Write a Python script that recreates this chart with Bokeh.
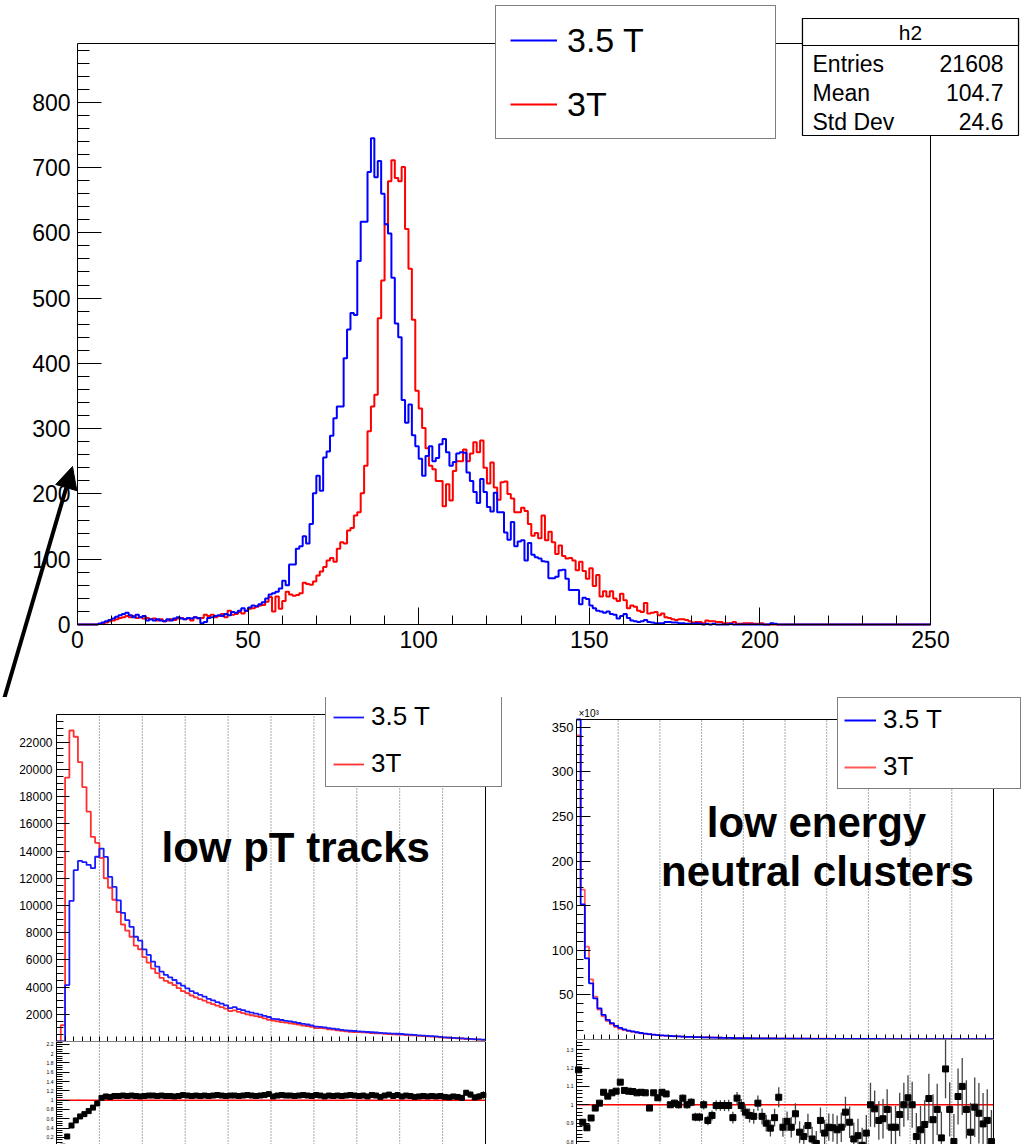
import numpy as np
from bokeh.plotting import figure
from bokeh.models import (Range1d, SingleIntervalTicker, FixedTicker, Legend, LegendItem, LinearAxis,
                          Label, BoxAnnotation, Arrow, NormalHead, PrintfTickFormatter)
from bokeh.layouts import column, row
from bokeh.embed import file_html
from bokeh.resources import INLINE

FONT = "Liberation Sans"

# ---------------- main histogram (h2), 250 bins of width 1 on [0, 250]
main_label_blue = "3.5 T"
main_label_red = "3T"
main_blue = [
    0, 0, 0, 0, 0, 0, 1, 3, 5, 7,
    9, 12, 14, 16, 18, 14, 11, 15, 11, 13,
    6, 8, 6, 8, 6, 5, 8, 6, 9, 11,
    9, 8, 10, 9, 11, 10, 2, 4, 10, 11,
    13, 14, 13, 16, 14, 19, 18, 21, 25, 21,
    26, 29, 28, 31, 34, 40, 46, 48, 50, 55,
    67, 60, 92, 92, 116, 120, 135, 124, 154, 201,
    228, 205, 256, 265, 289, 316, 334, 334, 408, 452,
    477, 474, 557, 617, 617, 693, 745, 685, 710, 660,
    613, 599, 531, 461, 440, 344, 309, 337, 290, 273,
    254, 228, 258, 273, 250, 255, 276, 284, 264, 243,
    249, 262, 264, 263, 233, 220, 203, 186, 223, 203,
    180, 173, 202, 172, 172, 141, 130, 157, 120, 127,
    129, 98, 125, 107, 103, 101, 97, 96, 71, 71,
    73, 83, 84, 70, 53, 53, 53, 31, 41, 39,
    29, 25, 21, 20, 18, 20, 16, 15, 9, 13,
    16, 10, 6, 5, 4, 5, 7, 4, 3, 2,
    2, 2, 4, 4, 3, 3, 2, 2, 1, 1,
    1, 2, 1, 0, 1, 0, 1, 0, 0, 0,
    0, 1, 0, 0, 0, 0, 0, 0, 0, 0,
    0, 0, 0, 2, 1, 0, 0, 0, 0, 0,
] + [0] * 40
main_red = [
    0, 0, 0, 0, 0, 0, 1, 2, 3, 5,
    6, 8, 10, 11, 13, 11, 13, 10, 11, 9,
    10, 8, 9, 6, 8, 5, 6, 8, 7, 9,
    10, 8, 9, 6, 11, 9, 10, 15, 13, 15,
    11, 13, 16, 11, 21, 15, 16, 19, 17, 21,
    24, 25, 27, 29, 30, 35, 42, 20, 43, 24,
    36, 50, 46, 44, 45, 48, 64, 62, 61, 66,
    75, 81, 88, 98, 102, 96, 116, 126, 124, 144,
    148, 167, 172, 201, 243, 296, 334, 352, 469, 527,
    613, 679, 711, 684, 679, 701, 606, 545, 467, 358,
    331, 301, 270, 243, 238, 220, 220, 181, 215, 190,
    235, 250, 250, 268, 250, 262, 279, 264, 282, 240,
    216, 248, 210, 191, 218, 219, 200, 193, 172, 172,
    179, 174, 154, 136, 140, 132, 167, 129, 142, 126,
    108, 121, 105, 101, 102, 98, 83, 96, 82, 70,
    86, 59, 76, 43, 51, 43, 51, 40, 36, 47,
    37, 25, 29, 27, 21, 19, 33, 17, 18, 19,
    14, 17, 11, 10, 8, 7, 8, 8, 7, 5,
    3, 4, 4, 2, 6, 5, 5, 4, 4, 2,
    2, 2, 4, 1, 1, 2, 2, 2, 1, 1,
    2, 0, 0, 0, 0, 0, 0, 0, 0, 0,
] + [0] * 40
stats_title = "h2"
stats_names = ["Entries", "Mean", "Std Dev"]
stats_values = ["21608", "104.7", "24.6"]

# ---------------- low pT tracks (100 bins)
trk_blue = [
    0, 0, 4150, 10340, 12590, 13270, 13180, 12980, 12740, 13580,
    14180, 13570, 12100, 11360, 10380, 9460, 8920, 8430, 7700, 7410,
    6770, 6360, 5870, 5500, 5130, 4890, 4720, 4520, 4280, 4100,
    3910, 3700, 3560, 3420, 3300, 3140, 3020, 2900, 2780, 2660,
    2450, 2520, 2380, 2300, 2200, 2120, 2050, 1980, 1880, 1800,
    1660, 1640, 1580, 1520, 1480, 1420, 1360, 1300, 1250, 1180,
    1100, 1080, 1040, 990, 950, 900, 860, 820, 790, 770,
    750, 730, 700, 680, 660, 640, 620, 600, 580, 570,
    550, 520, 500, 480, 450, 430, 410, 390, 370, 340,
    300, 290, 270, 250, 230, 210, 190, 170, 150, 135,
]
trk_red = [
    0, 1200, 19400, 22860, 22400, 20540, 18700, 16900, 15040, 14600,
    13500, 12000, 11300, 10420, 9520, 8600, 8150, 7700, 7050, 6780,
    6200, 5800, 5360, 5020, 4680, 4460, 4320, 4150, 3920, 3700,
    3560, 3380, 3240, 3120, 3000, 2860, 2740, 2630, 2520, 2420,
    2230, 2290, 2180, 2090, 2000, 1930, 1870, 1800, 1700, 1600,
    1530, 1490, 1420, 1380, 1340, 1290, 1240, 1170, 1140, 1080,
    990, 980, 960, 900, 870, 820, 790, 745, 710, 700,
    690, 665, 645, 615, 600, 590, 565, 545, 530, 515,
    510, 475, 455, 445, 415, 395, 380, 355, 340, 310,
    280, 275, 250, 235, 220, 180, 170, 160, 140, 120,
]
trk_ratio = [
    None, 0.0, 0.22, 0.455, 0.565, 0.65, 0.70, 0.765, 0.84, 0.93,
    1.05, 1.08, 1.07, 1.09, 1.09, 1.10, 1.09, 1.10, 1.09, 1.08,
    1.09, 1.10, 1.10, 1.09, 1.10, 1.09, 1.09, 1.08, 1.09, 1.11,
    1.10, 1.09, 1.10, 1.09, 1.10, 1.09, 1.10, 1.11, 1.10, 1.09,
    1.10, 1.10, 1.09, 1.10, 1.11, 1.10, 1.09, 1.10, 1.11, 1.13,
    1.08, 1.10, 1.11, 1.10, 1.10, 1.09, 1.10, 1.11, 1.10, 1.09,
    1.11, 1.10, 1.08, 1.10, 1.09, 1.10, 1.09, 1.10, 1.11, 1.10,
    1.09, 1.10, 1.08, 1.11, 1.10, 1.07, 1.10, 1.12, 1.09, 1.11,
    1.08, 1.10, 1.09, 1.07, 1.08, 1.09, 1.08, 1.09, 1.08, 1.09,
    1.07, 1.06, 1.08, 1.07, 1.05, 1.16, 1.12, 1.06, 1.08, 1.11,
]
trk_ratio_err = [
    0, 0.0, 0.005, 0.004, 0.004, 0.004, 0.004, 0.004, 0.004, 0.004,
    0.004, 0.004, 0.004, 0.005, 0.005, 0.005, 0.005, 0.005, 0.006, 0.006,
    0.006, 0.006, 0.007, 0.007, 0.007, 0.007, 0.008, 0.008, 0.008, 0.008,
    0.009, 0.009, 0.009, 0.01, 0.01, 0.01, 0.01, 0.011, 0.011, 0.011,
    0.012, 0.012, 0.012, 0.013, 0.013, 0.013, 0.014, 0.014, 0.014, 0.015,
    0.015, 0.016, 0.016, 0.016, 0.017, 0.017, 0.018, 0.018, 0.019, 0.019,
    0.02, 0.02, 0.021, 0.021, 0.022, 0.022, 0.023, 0.024, 0.024, 0.025,
    0.025, 0.026, 0.027, 0.027, 0.028, 0.029, 0.03, 0.03, 0.031, 0.032,
    0.033, 0.034, 0.035, 0.036, 0.037, 0.038, 0.04, 0.041, 0.043, 0.045,
    0.047, 0.049, 0.051, 0.054, 0.057, 0.06, 0.065, 0.07, 0.075, 0.08,
]

# ---------------- low energy neutral clusters (100 bins, x10^3)
clu_blue = [
    406, 151.4, 91, 63, 46, 35, 27.6, 22, 18.3, 15.3,
    13, 11.3, 10, 9, 8.1, 7.3, 6.6, 6.0, 5.5, 5.0,
    4.6, 4.25, 3.95, 3.7, 3.45, 3.25, 3.05, 2.88, 2.72, 2.57,
    2.43, 2.3, 2.18, 2.07, 1.97, 1.87, 1.78, 1.7, 1.62, 1.55,
    1.48, 1.42, 1.36, 1.3, 1.25, 1.2, 1.15, 1.1, 1.06, 1.02,
    0.98, 0.95, 0.92, 0.89, 0.86, 0.83, 0.8, 0.78, 0.76, 0.74,
    0.72, 0.7, 0.68, 0.66, 0.64, 0.62, 0.6, 0.59, 0.58, 0.57,
    0.56, 0.55, 0.54, 0.53, 0.52, 0.51, 0.5, 0.49, 0.48, 0.47,
    0.46, 0.45, 0.44, 0.43, 0.42, 0.41, 0.4, 0.39, 0.38, 0.37,
    0.36, 0.35, 0.34, 0.33, 0.32, 0.31, 0.3, 0.29, 0.28, 0.27,
]
clu_red = [
    341, 168, 104, 67.5, 48, 33.5, 26, 20.6, 16.9, 14,
    11.9, 10.6, 9.4, 8.5, 7.7, 6.9, 6.3, 5.9, 5.2, 4.8,
    4.35, 4.05, 3.95, 3.65, 3.45, 3.15, 3.05, 2.85, 2.9, 2.75,
    2.43, 2.5, 2.3, 2.08, 1.98, 1.88, 1.79, 1.82, 1.57, 1.56,
    1.54, 1.5, 1.45, 1.29, 1.33, 1.33, 1.32, 1.18, 1.02, 1.16,
    1.08, 1.08, 0.97, 1.04, 1.04, 0.94, 0.98, 0.99, 0.83, 0.87,
    0.82, 0.8, 0.79, 0.75, 0.67, 0.69, 0.74, 0.71, 0.74, 0.67,
    0.56, 0.56, 0.59, 0.57, 0.53, 0.58, 0.57, 0.52, 0.48, 0.45,
    0.46, 0.54, 0.51, 0.48, 0.41, 0.45, 0.41, 0.48, 0.32, 0.38,
    0.45, 0.34, 0.31, 0.34, 0.38, 0.31, 0.31, 0.31, 0.31, 0.34,
]
clu_ratio = [
    1.19, 0.905, 0.875, 0.928, 0.982, 1.009, 1.068, 1.047, 1.065, 1.074,
    1.123, 1.078, 1.074, 1.072, 1.065, 1.068, 1.065, 0.982, 1.065, 1.038,
    1.068, 1.059, 1.0, 1.009, 1.0, 1.036, 1.0, 1.014, 0.933, 0.933,
    1.0, 0.915, 0.942, 0.996, 0.996, 0.996, 0.996, 0.93, 1.036, 0.996,
    0.96, 0.942, 0.937, 1.009, 0.937, 0.9, 0.873, 0.93, 1.041, 0.878,
    0.91, 0.878, 0.951, 0.851, 0.827, 0.887, 0.814, 0.79, 0.915, 0.846,
    0.878, 0.875, 0.864, 0.878, 0.96, 0.905, 0.814, 0.832, 0.78, 0.846,
    1.0, 0.978, 0.915, 0.924, 0.975, 0.878, 0.878, 0.947, 1.0, 1.038,
    1.0, 0.827, 0.864, 0.893, 1.034, 0.919, 0.975, 0.82, 1.195, 0.975,
    0.8, 1.045, 1.1, 0.975, 0.851, 0.987, 0.954, 0.896, 0.915, 0.8,
]
clu_ratio_err = [
    0.004, 0.005, 0.005, 0.006, 0.006, 0.007, 0.007, 0.008, 0.008, 0.009,
    0.009, 0.01, 0.01, 0.011, 0.012, 0.012, 0.013, 0.014, 0.015, 0.016,
    0.016, 0.017, 0.018, 0.019, 0.02, 0.02, 0.021, 0.022, 0.023, 0.024,
    0.025, 0.026, 0.027, 0.028, 0.029, 0.03, 0.031, 0.032, 0.034, 0.035,
    0.036, 0.038, 0.04, 0.041, 0.043, 0.045, 0.046, 0.048, 0.055, 0.052,
    0.054, 0.056, 0.058, 0.06, 0.062, 0.064, 0.066, 0.068, 0.07, 0.072,
    0.074, 0.076, 0.078, 0.08, 0.083, 0.086, 0.089, 0.092, 0.095, 0.098,
    0.12, 0.1, 0.105, 0.108, 0.11, 0.112, 0.115, 0.118, 0.12, 0.122,
    0.125, 0.128, 0.13, 0.132, 0.135, 0.138, 0.14, 0.142, 0.16, 0.148,
    0.15, 0.152, 0.155, 0.158, 0.16, 0.162, 0.165, 0.168, 0.17, 0.172,
]
label_trk = "low pT tracks"
label_clu = ["low energy", "neutral clusters"]


def step_xy(edges, vals):
    return list(edges), list(vals) + [vals[-1]]


def style_axis(ax, size, maj_in, min_in, standoff):
    ax.major_tick_in = maj_in
    ax.major_tick_out = 0
    ax.minor_tick_in = min_in
    ax.minor_tick_out = 0
    ax.axis_line_color = None
    ax.major_tick_line_color = "black"
    ax.minor_tick_line_color = "black"
    ax.major_label_text_font = FONT
    ax.major_label_text_font_size = size
    ax.major_label_text_color = "black"
    ax.major_label_standoff = standoff


def canvas_fig(W, H, fx0, fx1, fy0, fy1, xr, yr, frame_sides=("below", "above", "left", "right")):
    """Figure whose Bokeh frame is the whole canvas; the ROOT pad frame spans
    canvas pixels fx0..fx1 (x) and fy0 (top)..fy1 (bottom) for data ranges xr, yr."""
    sx = (fx1 - fx0) / (xr[1] - xr[0])
    sy = (fy1 - fy0) / (yr[1] - yr[0])
    x_lo = xr[0] - fx0 / sx
    x_hi = xr[1] + (W - fx1) / sx
    y_lo = yr[0] - (H - fy1) / sy
    y_hi = yr[1] + fy0 / sy
    f = figure(width=W, height=H, x_range=Range1d(x_lo, x_hi), y_range=Range1d(y_lo, y_hi),
               output_backend="svg", toolbar_location=None, title=None, min_border=0)
    f.outline_line_color = None
    f.background_fill_color = "white"
    f.border_fill_color = "white"
    f.xgrid.visible = False
    f.ygrid.visible = False
    bx = f.below[0]
    ly = f.left[0]
    bx.fixed_location = yr[0]
    ly.fixed_location = xr[0]
    bx.axis_line_color = None
    ly.axis_line_color = None
    locs = {"below": (yr[0], xr), "above": (yr[1], xr), "left": (xr[0], yr), "right": (xr[1], yr)}
    for side in frame_sides:
        loc, bnd = locs[side]
        ax = LinearAxis(fixed_location=loc, bounds=bnd, ticker=FixedTicker(ticks=[]),
                        major_tick_in=0, major_tick_out=0, minor_tick_in=0, minor_tick_out=0,
                        axis_line_color="black", axis_line_width=1)
        f.add_layout(ax, side)
    return f, bx, ly


def slabel(f, H, x, y, text, size, align="left", baseline="middle", bold=False):
    f.add_layout(Label(x=x, y=H - y, x_units="screen", y_units="screen", text=text,
                       text_font=FONT, text_font_size=size, text_color="black",
                       text_align=align, text_baseline=baseline,
                       text_font_style="bold" if bold else "normal", level="overlay"))


def sbox(H, l, r, t, b):
    return BoxAnnotation(left=l, right=r, top=H - t, bottom=H - b,
                         left_units="screen", right_units="screen",
                         top_units="screen", bottom_units="screen",
                         fill_color="white", fill_alpha=1.0, line_color="black",
                         line_width=1.2, line_alpha=1.0, level="overlay")


def make_legend(items, left, bottom, pad, spacing, gw, gh, lw, lh, stand, size, bw):
    return Legend(items=items, location=(left, bottom), orientation="vertical", margin=0,
                  padding=pad, spacing=spacing, glyph_width=gw, glyph_height=gh,
                  label_width=lw, label_height=lh, label_standoff=stand,
                  label_text_font=FONT, label_text_font_size=size, label_text_color="black",
                  border_line_color="black", border_line_width=bw,
                  background_fill_color="white", background_fill_alpha=1.0)


# ================= TOP FIGURE (page rows 0..697) =================
H0 = 697
top, tx, ty = canvas_fig(1026, H0, 77, 930, 43, 624, (0, 250), (0, 890))
style_axis(tx, "23px", 17, 9, 6)
style_axis(ty, "23px", 24, 12, 7)
tx.ticker = SingleIntervalTicker(interval=50, num_minor_ticks=5)
ty.ticker = SingleIntervalTicker(interval=100, num_minor_ticks=5)
tx.bounds = (0, 250)
ty.bounds = (0, 890)

e_main = np.arange(0, 251)
xr_, yr_ = step_xy(e_main, main_red)
xb_, yb_ = step_xy(e_main, main_blue)
r_red = top.step(xr_, yr_, mode="after", line_color="#ff0000", line_width=2)
r_blue = top.step(xb_, yb_, mode="after", line_color="#0000ff", line_width=2)

top.add_layout(make_legend([LegendItem(label=main_label_blue, renderers=[r_blue]),
                            LegendItem(label=main_label_red, renderers=[r_red])],
                           495, H0 - 139, 14, 24, 47, 40, 194, 40, 10, "34px", 1.5), "center")

top.add_layout(sbox(H0, 802, 1018, 18, 135))
top.add_layout(sbox(H0, 802, 1018, 18, 45))
slabel(top, H0, 910, 32, stats_title, "21px", align="center")
for i, (nm, vv) in enumerate(zip(stats_names, stats_values)):
    yy = 63 + 29 * i
    slabel(top, H0, 812, yy, nm, "23px")
    slabel(top, H0, 1003, yy, vv, "23px", align="right")

top.add_layout(Arrow(end=NormalHead(size=22, fill_color="black", line_color="black"),
                     x_start=4, y_start=H0 - 697, x_end=72, y_end=H0 - 466,
                     start_units="screen", end_units="screen",
                     line_color="black", line_width=4))

# ================= BOTTOM LEFT (page x 0..510, y 697..1144) =================
e100 = np.linspace(0, 10, 101)
ctr100 = (e100[:-1] + e100[1:]) / 2
grid_x = np.arange(1, 10)
minor_x = [round(v, 1) for v in np.arange(0.2, 10.0, 0.2)]

HL = 344
L_TOP = 24035
fL, lx, ly = canvas_fig(510, HL, 56, 485, 17, 344, (0, 10), (0, L_TOP))
style_axis(lx, "10px", 5, 5, 0)
lx.ticker = FixedTicker(ticks=[], minor_ticks=minor_x)
style_axis(ly, "12px", 13, 7, 4)
ly.ticker = SingleIntervalTicker(interval=2000, num_minor_ticks=4)
ly.bounds = (1, 23500)
fL.segment(grid_x, 0, grid_x, L_TOP, line_color="#555555", line_dash="1 2", line_width=1)

x1, y1 = step_xy(e100, trk_red)
x2, y2 = step_xy(e100, trk_blue)
lr = fL.step(x1, np.minimum(y1, L_TOP), mode="after", line_color="#ff3030", line_width=1.8)
lb = fL.step(x2, np.minimum(y2, L_TOP), mode="after", line_color="#1a1aff", line_width=1.8)
fL.add_layout(make_legend([LegendItem(label="3.5 T", renderers=[lb]), LegendItem(label="3T", renderers=[lr])],
                          325, HL - (787 - 697), 7, 16, 31, 30, 123, 30, 7, "26px", 1.2), "center")
slabel(fL, HL, 161, 847 - 697, label_trk, "42px", baseline="alphabetic", bold=True)

HLr = 103
fLr, lrx, lry = canvas_fig(510, HLr, 56, 485, 0, HLr, (0, 10), (0.047, 2.262),
                           frame_sides=("above", "left", "right"))
lrx.visible = False
style_axis(lry, "5px", 13, 6, 3)
lry.ticker = FixedTicker(ticks=[0.2, 0.4, 0.6, 0.8, 1.0, 1.2, 1.4, 1.6, 1.8, 2.0, 2.2],
                         minor_ticks=[0.05, 0.1, 0.15, 0.25, 0.3, 0.35, 0.45, 0.5, 0.55, 0.65, 0.7, 0.75,
                                      0.85, 0.9, 0.95, 1.05, 1.1, 1.15, 1.25, 1.3, 1.35, 1.45, 1.5, 1.55,
                                      1.65, 1.7, 1.75, 1.85, 1.9, 1.95, 2.05, 2.1, 2.15, 2.25])
lry.formatter = PrintfTickFormatter(format="%g")
fLr.segment(grid_x, 0.047, grid_x, 2.262, line_color="#555555", line_dash="1 2", line_width=1)
fLr.segment(0, 1, 10, 1, line_color="#ff0000", line_width=1.5)
xs_ok = [c for c, r in zip(ctr100, trk_ratio) if r is not None]
rs_ok = [r for r in trk_ratio if r is not None]
es_ok = [e for e, r in zip(trk_ratio_err, trk_ratio) if r is not None]
fLr.segment(xs_ok, [r - e for r, e in zip(rs_ok, es_ok)], xs_ok, [r + e for r, e in zip(rs_ok, es_ok)],
            line_color="#333333", line_width=1.2)
fLr.scatter(xs_ok, rs_ok, marker="square", size=5, color="black")

# ================= BOTTOM RIGHT (page x 510..1026, y 697..1144) =================
HR = 342
R_TOP = 358.7
fR, rx, ry = canvas_fig(516, HR, 66, 483, 22, 342, (0, 10), (0, R_TOP))
style_axis(rx, "10px", 5, 5, 0)
rx.ticker = FixedTicker(ticks=[], minor_ticks=minor_x)
style_axis(ry, "13px", 14, 7, 3)
ry.ticker = SingleIntervalTicker(interval=50, num_minor_ticks=5)
ry.bounds = (1, R_TOP)
fR.segment(grid_x, 0, grid_x, R_TOP, line_color="#555555", line_dash="1 2", line_width=1)
x3, y3 = step_xy(e100, clu_red)
x4, y4 = step_xy(e100, clu_blue)
rr2 = fR.step(x3, np.minimum(y3, R_TOP), mode="after", line_color="#ff5a5a", line_width=1.8)
rb2 = fR.step(x4, np.minimum(y4, R_TOP), mode="after", line_color="#0000ff", line_width=1.8)
fR.add_layout(make_legend([LegendItem(label="3.5 T", renderers=[rb2]), LegendItem(label="3T", renderers=[rr2])],
                          837 - 510, HR - (789 - 697), 6, 16, 32, 30, 131, 30, 7, "26px", 1.2), "center")
slabel(fR, HR, 578 - 510, 713 - 697, "\u00d710\u00b3", "10px")
slabel(fR, HR, 816 - 510, 822 - 697, label_clu[0], "42px", align="center", baseline="alphabetic", bold=True)
slabel(fR, HR, 817 - 510, 871 - 697, label_clu[1], "42px", align="center", baseline="alphabetic", bold=True)

HRr = 105
fRr, rrx, rry = canvas_fig(516, HRr, 66, 483, 0, HRr, (0, 10), (0.784, 1.355),
                           frame_sides=("above", "left", "right"))
rrx.visible = False
style_axis(rry, "5px", 13, 6, 3)
rry.ticker = FixedTicker(ticks=[0.8, 0.9, 1.0, 1.1, 1.2, 1.3],
                         minor_ticks=[0.82, 0.84, 0.86, 0.88, 0.92, 0.94, 0.96, 0.98, 1.02, 1.04, 1.06,
                                      1.08, 1.12, 1.14, 1.16, 1.18, 1.22, 1.24, 1.26, 1.28, 1.32, 1.34])
rry.formatter = PrintfTickFormatter(format="%g")
fRr.segment(grid_x, 0.784, grid_x, 1.355, line_color="#555555", line_dash="1 2", line_width=1)
fRr.segment(0, 1, 10, 1, line_color="#ff0000", line_width=1.5)
fRr.segment(list(ctr100), [r - e for r, e in zip(clu_ratio, clu_ratio_err)],
            list(ctr100), [r + e for r, e in zip(clu_ratio, clu_ratio_err)],
            line_color="#444444", line_width=1.3)
fRr.scatter(list(ctr100), clu_ratio, marker="square", size=6, color="black")

layout = column(top, row(column(fL, fLr), column(fR, fRr)))
open("out.html", "w").write(file_html(layout, INLINE))
